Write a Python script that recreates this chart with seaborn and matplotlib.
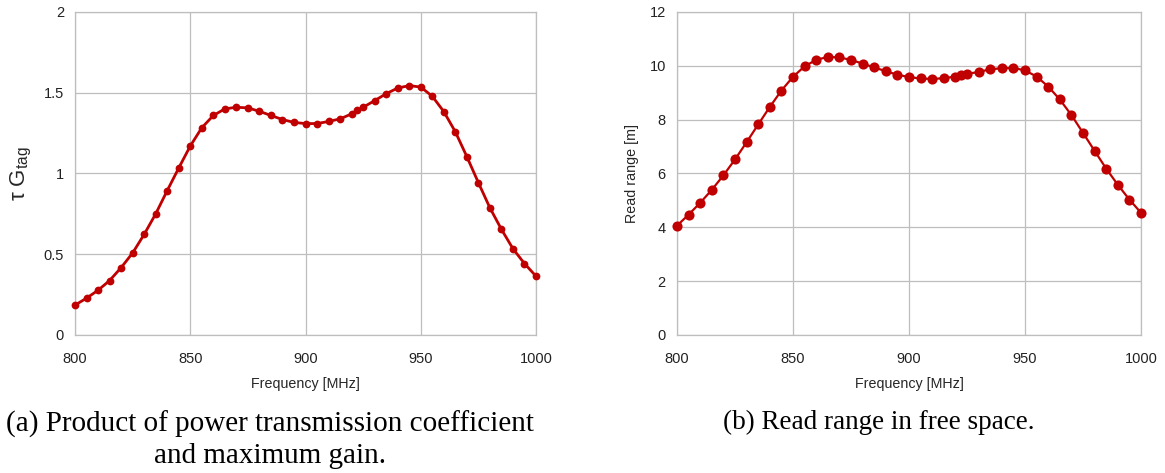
import numpy as np
import pandas as pd
import matplotlib
matplotlib.use("Agg")
import matplotlib.pyplot as plt
import seaborn as sns

# frequency points [MHz] (extra point at 922.5)
freq = [800, 805, 810, 815, 820, 825, 830, 835, 840, 845, 850, 855, 860, 865,
        870, 875, 880, 885, 890, 895, 900, 905, 910, 915, 920, 922.5, 925, 930,
        935, 940, 945, 950, 955, 960, 965, 970, 975, 980, 985, 990, 995, 1000]

# (a) tau * G_tag
tau_gain = [0.185, 0.228, 0.277, 0.337, 0.417, 0.508, 0.623, 0.750, 0.894, 1.034,
            1.170, 1.283, 1.359, 1.400, 1.410, 1.406, 1.385, 1.359, 1.334, 1.316,
            1.309, 1.309, 1.322, 1.338, 1.369, 1.390, 1.410, 1.451, 1.494, 1.529,
            1.544, 1.535, 1.478, 1.383, 1.258, 1.104, 0.943, 0.787, 0.654, 0.534,
            0.442, 0.364]

# (b) read range [m]
read_range = [4.06, 4.47, 4.91, 5.39, 5.93, 6.52, 7.16, 7.82, 8.47, 9.08,
              9.59, 9.98, 10.22, 10.33, 10.31, 10.22, 10.08, 9.94, 9.80, 9.67,
              9.58, 9.53, 9.51, 9.54, 9.60, 9.64, 9.70, 9.77, 9.87, 9.91,
              9.92, 9.83, 9.60, 9.23, 8.75, 8.17, 7.51, 6.84, 6.18, 5.58,
              5.03, 4.54]

df = pd.DataFrame({"freq": freq, "tau_gain": tau_gain, "read_range": read_range})

sns.set_style("whitegrid")
plt.rcParams["font.family"] = ["Liberation Sans", "DejaVu Sans"]
plt.rcParams["mathtext.fontset"] = "custom"
plt.rcParams["mathtext.rm"] = "Liberation Sans"
plt.rcParams["mathtext.it"] = "Liberation Sans"

red = "#C00000"
grid_col = "#BEBEBE"

fig = plt.figure(figsize=(11.65, 4.73), dpi=100)
ax1 = fig.add_axes([0.0644, 0.2918, 0.3957, 0.6829])
ax2 = fig.add_axes([0.5811, 0.2918, 0.3983, 0.6829])


def style_axes(ax, yticks):
    ax.set_xlim(800, 1000)
    ax.set_xticks([800, 850, 900, 950, 1000])
    ax.set_yticks(yticks)
    ax.set_ylim(yticks[0], yticks[-1])
    ax.grid(True, color=grid_col, linewidth=0.9)
    for s in ax.spines.values():
        s.set_color(grid_col)
        s.set_linewidth(0.9)
    ax.tick_params(axis="both", direction="out", length=4, width=0.9,
                   color=grid_col, labelsize=10.5, labelcolor="#222222", pad=4)
    ax.tick_params(axis="x", pad=8)
    ax.set_xlabel("Frequency [MHz]", fontsize=10.3, labelpad=8)
    for ln in ax.lines:
        ln.set_clip_on(False)
        ln.set_zorder(5)


sns.lineplot(data=df, x="freq", y="tau_gain", ax=ax1, color=red, linewidth=2.0,
             marker="o", markersize=5.6, markeredgewidth=0)
style_axes(ax1, [0, 0.5, 1, 1.5, 2])
ax1.set_yticklabels(["0", "0.5", "1", "1.5", "2"])
ax1.set_ylabel(r"τ G$_{\mathrm{tag}}$", fontsize=16, va="center")
ax1.yaxis.set_label_coords(-0.117, 0.5)

sns.lineplot(data=df, x="freq", y="read_range", ax=ax2, color=red, linewidth=1.6,
             marker="o", markersize=7.3, markeredgewidth=0)
style_axes(ax2, [0, 2, 4, 6, 8, 10, 12])
ax2.set_ylabel("Read range [m]", fontsize=10.3, va="center")
ax2.yaxis.set_label_coords(-0.097, 0.5)

cap = dict(family=["Liberation Serif", "DejaVu Serif"],
           ha="center", va="center", color="black")
fig.text(270 / 1165, 1 - 424 / 473, "(a) Product of power transmission coefficient",
         fontsize=21, **cap)
fig.text(270 / 1165, 1 - 456 / 473, "and maximum gain.", fontsize=21, **cap)
fig.text(879 / 1165, 1 - 422 / 473, "(b) Read range in free space.",
         fontsize=19.5, **cap)

fig.savefig("out.png", dpi=100)
